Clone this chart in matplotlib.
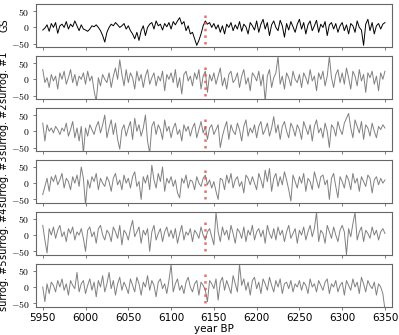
import matplotlib
matplotlib.use('Agg')
import matplotlib.pyplot as plt
import numpy as np

plt.rcParams['mathtext.fontset'] = 'cm'
plt.rcParams['font.family'] = 'DejaVu Sans'

# values, one every 2.5 years from 5950 to 6350
gs = [-8, -2, 8, -12, 12, 0, 15, -18, 5, 10, 0, 18, -5, 10, 2, 20, 5, -10, 8, -5,
      -8, -12, -5, 5, 2, 8, 0, -10, -25, -45, -15, 0, 10, 5, 15, 8, 0, 5, 12, -5,
      5, -10, -20, -35, -15, -40, -10, 5, -25, 0, 10, 15, -5, 20, 5, 10, -8, 12, 2, 15,
      -5, 18, 8, 20, 30, 10, 18, -10, 5, -20, -15, -35, -55, -40, -20, 5, 20, 10, 15, 0,
      12, -5, 8, -15, 5, -20, 10, 0, 15, -10, 8, -5, 18, -12, 10, 2, -20, 15, 5, -8,
      20, -15, 10, 25, -5, 15, -25, 8, 20, 0, -10, 22, 5, -30, 12, -8, 18, 2, -15, 10,
      25, -5, 15, -20, 8, 20, -10, 5, 22, -15, 10, 0, 18, -25, 8, 15, -5, 12, -15, 5,
      15, -10, 8, -20, 12, 5, -15, 20, 0, -8, -55, 10, 25, -10, 15, -20, 5, 12, -5, 10,
      15]

surr1 = [30, -10, 5, -25, 15, -5, 10, -30, 20, 0, 25, -15, 5, 30, -10, 15, -20, 10, 0, 20,
         -15, 25, -5, 10, -35, -68, 5, -20, 15, 0, -10, 20, -25, 10, 35, 0, 60, 15, -20, 30,
         -10, 20, 5, -30, 25, -5, 15, -25, 10, 30, -15, 5, 20, -20, 10, -5, 25, -35, 15, 0,
         20, -10, 30, -25, 5, -45, 15, 25, -5, 10, -20, 20, 0, 30, -30, 10, 25, -40, 15, -5,
         20, -15, 10, 35, -20, 5, -30, 15, 25, -10, 0, 20, -25, 10, 30, -15, 5, -35, 20, 10,
         -5, 25, -20, 15, -68, 10, 30, -25, 5, 20, 70, -15, 10, -30, 20, 5, -20, 25, 0, -10,
         15, -25, 20, 5, -15, 30, -5, 10, -35, 20, 0, 25, -20, 10, 70, 5, -25, 15, 30, -10,
         20, -15, 35, 5, -30, 25, 10, -20, 30, -5, 15, -40, 20, 5, 25, -15, 10, -35, 20, 0,
         25]

surr2 = [25, -30, 20, 0, 10, -5, 15, 5, -10, 10, 0, 25, -15, 5, 30, -20, 10, -30, 15, -68,
         10, -15, 20, 5, -10, 15, 30, -5, 20, 50, -20, 10, 35, -10, 25, -25, -55, 5, 20, -15,
         10, 30, -25, 40, 0, 20, -15, 10, 50, -30, -68, 15, 30, -10, 20, 5, -25, 35, 0, 15,
         -20, 10, 25, -10, 5, -30, 20, 0, 15, -15, 10, 25, -20, 5, 30, -5, 15, -25, 10, 20,
         -10, 5, 20, -50, -15, 10, 30, -25, 20, 0, -10, 25, 5, -30, 15, 35, -15, 10, -5, 20,
         -20, 15, 30, -10, 5, 25, -15, 10, 45, -5, 20, -25, 15, 30, 0, -20, 25, 10, -15, 20,
         5, -25, 30, 10, -10, 20, -30, 15, 35, -5, 10, -20, 25, 0, -50, 20, 10, -15, 30, 5,
         -10, 25, 40, 55, 10, -20, 35, 15, -5, 30, -25, 20, 10, -15, 25, 0, -20, 15, 5, 20,
         10]

surr3 = [-35, -10, 15, -25, 20, 5, 25, -5, 10, 30, -15, 15, 5, -20, 20, 0, 25, -10, 50, 15,
         -68, 10, -15, 20, 5, 30, -20, 15, 0, -10, 20, 5, -25, 15, 30, -5, 10, -20, 25, 0,
         15, -15, 20, 35, -10, 5, -50, 20, 0, 25, -20, 55, 10, -15, 30, 5, 50, -25, 15, 0,
         20, -10, 10, -30, -45, 15, 0, 25, -15, 10, 5, -20, 20, 0, -10, 15, 25, -5, 10, -15,
         5, -25, -50, 15, 10, -20, 25, 0, 30, -15, 10, 20, -10, 5, -30, 25, 15, -5, 20, 0,
         -20, 30, 10, -15, 40, 5, 45, -25, 15, 30, -10, 20, -5, 35, 10, -20, -55, 25, 5, -15,
         20, 0, 30, -25, 15, 5, -20, 35, 10, -15, 20, 25, -5, 10, -50, 15, 30, -10, -45, 20,
         5, -15, 25, 10, -20, 30, 0, 15, -25, 20, 5, -10, 25, 15, -30, 10, 20, -5, 15, 0,
         10]

surr4 = [30, -15, -55, 20, 0, 25, -10, 15, 30, -5, 10, -20, 20, 5, 25, -15, 10, 0, 20, -10,
         -50, 15, 25, -5, 10, -25, 20, 30, 0, -15, 15, 5, -20, 25, 10, -10, 30, -30, 15, 5,
         -15, 20, 45, -5, 10, 25, -25, 15, 0, 20, -50, 10, 30, -15, 5, 20, -20, 10, 25, -5,
         15, -10, 20, -25, 5, 30, -15, 10, 0, 20, -20, 15, 5, -10, 25, 0, -15, 10, 20, -5,
         -30, 70, 10, -20, 25, 0, 15, -15, 30, 5, -25, 20, 10, -10, 25, -20, 15, 0, 30, -15,
         10, 20, -5, 15, -25, 30, 5, -10, 20, -15, 25, 0, 15, -20, 10, 30, -10, 5, 20, -25,
         15, 0, 25, -15, 10, 30, -5, 20, 70, -20, 15, 5, -25, 30, 10, -10, 25, 0, -20, 15,
         30, 10, -60, 20, -5, 35, 70, -15, 10, 25, -20, 15, 5, -10, 25, 0, 15, -15, 10, 20,
         5]

surr5 = [0, -45, 10, -20, 15, 5, -15, 20, 0, 25, -10, 10, -25, 20, 5, -5, 45, -15, 10, 20,
         -20, 5, 25, -10, 15, -30, 20, 0, 35, -15, 10, 45, -5, 20, -25, 10, 30, -10, 15, 0,
         -20, 25, 5, -15, 30, 10, -25, 15, 0, 35, -10, 20, 5, -30, 15, 25, -5, 10, -20, 20,
         70, -15, 10, 25, -10, 5, -20, 15, 30, 0, -15, 10, 20, -25, 15, 5, -10, -45, 20, 10,
         -5, 25, -40, 15, 30, -10, 20, 0, -20, 35, 10, -15, 70, 5, 25, -10, 15, -25, 20, 30,
         -5, 15, -20, 25, 10, -10, 30, 5, -15, 20, 0, 25, -20, 10, 15, -5, 20, -15, 10, 0,
         20, -10, 15, 5, -20, 25, 0, 10, -15, 20, 5, -10, 15, 25, -20, 10, 0, 20, -15, 5,
         15, -25, 20, 5, -10, 25, 0, 15, -20, 30, 10, -15, 20, 5, -5, 15, -25, 10, 0, -20,
         -70]

series = [gs, surr1, surr2, surr3, surr4, surr5]
labels = ['GS', 'surrog. #1', 'surrog. #2', 'surrog. #3', 'surrog. #4', 'surrog. #5']
event_year = 6140

fig, axes = plt.subplots(6, 1, figsize=(3.99, 3.35), dpi=100, sharex=True)
fig.subplots_adjust(left=0.09, right=0.982, top=0.988, bottom=0.085, hspace=0.21)

for i, ax in enumerate(axes):
    y = np.array(series[i])
    x = 5950 + 2.5*np.arange(len(y))
    col = 'k' if i == 0 else 'grey'
    ax.plot(x, y, color=col, lw=0.7)
    ax.vlines(event_year, -50, 50, colors='#e05050', linestyles=':', lw=1.8, alpha=0.8)
    ax.set_ylim(-60, 72)
    ax.set_yticks([-50, 0, 50])
    ax.set_yticklabels(['$-50$', '$0$', '$50$'], fontsize=7)
    ax.set_ylabel(labels[i], fontsize=7, labelpad=1)
    ax.tick_params(axis='x', labelsize=7.5)
    ax.tick_params(length=2.5, width=0.6, color='0.4', pad=2)
    for s in ax.spines.values():
        s.set_color('0.4')
        s.set_linewidth(0.8)
    ax.yaxis.set_label_coords(-0.075, 0.5)

axes[-1].set_xlim(5942, 6358)
axes[-1].set_xticks(np.arange(5950, 6351, 50))
axes[-1].set_xlabel('year BP', fontsize=7.5, labelpad=1)

fig.savefig('out.png', dpi=100)
